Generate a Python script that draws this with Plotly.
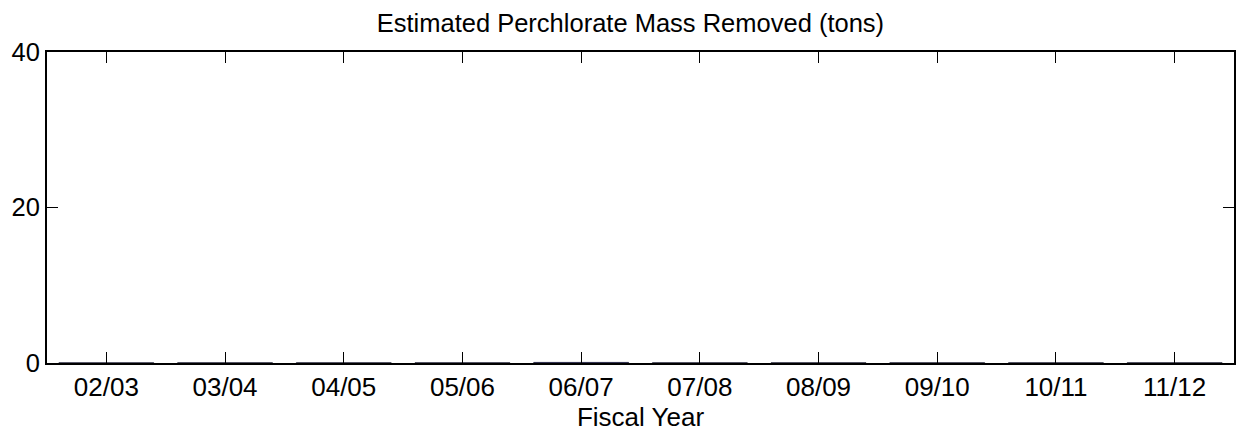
import plotly.graph_objects as go

# Fiscal years and estimated perchlorate mass removed (tons)
fiscal_years = ["02/03", "03/04", "04/05", "05/06", "06/07",
                "07/08", "08/09", "09/10", "10/11", "11/12"]
mass_removed_tons = [0.03, 0.04, 0.04, 0.04, 0.08, 0.04, 0.04, 0.04, 0.04, 0.04]

y_ticks = [0, 20, 40]

FONT = "Liberation Sans, Arial, sans-serif"

fig = go.Figure(
    go.Bar(
        x=list(range(len(fiscal_years))),
        y=mass_removed_tons,
        width=0.8,
        marker=dict(color="#000090", line=dict(color="black", width=0.5)),
    )
)

fig.update_layout(
    width=1239,
    height=437,
    margin=dict(l=47, r=3, t=52, b=74),
    paper_bgcolor="white",
    plot_bgcolor="white",
    showlegend=False,
    font=dict(family=FONT, size=26, color="black"),
    title=dict(
        text="Estimated Perchlorate Mass Removed (tons)",
        x=0.4915,
        xref="paper",
        xanchor="center",
        y=1 - 23 / 437,
        yref="container",
        yanchor="middle",
        font=dict(family=FONT, size=25.5, color="black"),
    ),
)

fig.update_xaxes(
    range=[-0.5, len(fiscal_years) - 0.5],
    tickmode="array",
    tickvals=list(range(len(fiscal_years))),
    ticktext=fiscal_years,
    tickfont=dict(family=FONT, size=26, color="black"),
    ticks="inside",
    ticklen=11,
    tickwidth=1,
    tickcolor="black",
    showline=True,
    linecolor="black",
    linewidth=2,
    mirror="allticks",
    showgrid=False,
    zeroline=False,
    title=dict(text="Fiscal Year", standoff=6,
               font=dict(family=FONT, size=26, color="black")),
    fixedrange=True,
)

fig.update_yaxes(
    range=[0, 40],
    tickmode="array",
    tickvals=y_ticks,
    ticktext=[str(v) for v in y_ticks],
    tickfont=dict(family=FONT, size=25.5, color="black"),
    ticks="inside",
    ticklen=11,
    tickwidth=1,
    tickcolor="black",
    showline=True,
    linecolor="black",
    linewidth=2,
    mirror="allticks",
    showgrid=False,
    zeroline=False,
    fixedrange=True,
)

fig.write_html("out.html", config={"displayModeBar": False})
